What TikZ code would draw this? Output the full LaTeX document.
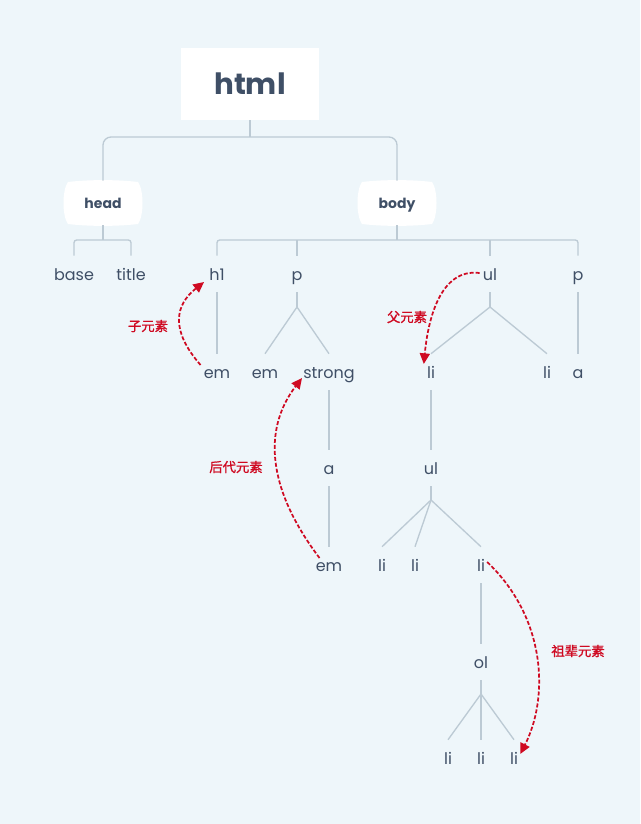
\documentclass[tikz,border=0pt]{standalone}
\usepackage{fontspec}
\setmainfont{Poppins}
\newfontfamily\cjk[FakeBold=1.3]{Noto Sans CJK SC}
\usetikzlibrary{arrows.meta}
\definecolor{bg}{HTML}{EEF6FA}
\definecolor{ln}{HTML}{BCCAD4}
\definecolor{tx}{HTML}{3F4F66}
\definecolor{rd}{HTML}{CF0A22}
\begin{document}
\begin{tikzpicture}[x=0.75pt,y=-0.75pt,
  lbl/.style={inner sep=0pt,text height=9pt,text depth=0pt,minimum height=27pt,text=tx,font=\fontsize{12}{14}\selectfont},
  conn/.style={draw=ln,line width=1pt},
  rel/.style={draw=rd,line width=1.3pt,dash pattern=on 3pt off 1.5pt,-{Triangle[length=8pt,width=7.5pt]}},
  rtext/.style={text=rd,font=\cjk\fontsize{10}{12}\selectfont,inner sep=0pt},
  tag/.style={inner sep=0pt,text height=7.5pt,text depth=0pt,minimum width=60pt,minimum height=33pt,text=tx,font=\bfseries\fontsize{10.5}{12}\selectfont},
  barrel/.style={fill=white}]
\fill[bg] (0,0) rectangle (640,824);
\useasboundingbox (0,0) rectangle (640,824);
% html
\node[fill=white,inner sep=0pt,minimum width=103.5pt,minimum height=54pt,text=tx,font=\bfseries\fontsize{22}{24}\selectfont] (html) at (250,84) {html};
% barrel shapes
\foreach \cx in {103,397}{
  \fill[barrel] (\cx-35,182) .. controls (\cx-14,179.5) and (\cx+14,179.5) .. (\cx+35,182)
    .. controls (\cx+41,190) and (\cx+41,216) .. (\cx+35,224)
    .. controls (\cx+14,226.5) and (\cx-14,226.5) .. (\cx-35,224)
    .. controls (\cx-41,216) and (\cx-41,190) .. (\cx-35,182) -- cycle;
}
\node[tag] (head) at (103,203) {head};
\node[tag] (body) at (397,203) {body};
% level nodes
\node[lbl] (base) at (74,274) {base};
\node[lbl] (title) at (131,274) {title};
\node[lbl] (h1) at (217,274) {h1};
\node[lbl] (pa) at (297,274) {p};
\node[lbl] (ula) at (490,274) {ul};
\node[lbl] (pb) at (578,274) {p};
\node[lbl] (em1) at (217,372) {em};
\node[lbl] (em2) at (265,372) {em};
\node[lbl] (strong) at (329,372) {strong};
\node[lbl] (lia) at (431,372) {li};
\node[lbl] (lib) at (547,372) {li};
\node[lbl] (aa) at (578,372) {a};
\node[lbl] (ab) at (329,468) {a};
\node[lbl] (ulb) at (431,468) {ul};
\node[lbl] (em3) at (329,565) {em};
\node[lbl] (lic) at (382,565) {li};
\node[lbl] (lid) at (415,565) {li};
\node[lbl] (lie) at (481,565) {li};
\node[lbl] (ol) at (481,662) {ol};
\node[lbl] (lif) at (448,758) {li};
\node[lbl] (lig) at (481,758) {li};
\node[lbl] (lih) at (514,758) {li};
% junctions
\coordinate (j0) at (250,137);
\coordinate (hj) at (103,240);
\coordinate (bj) at (397,240);
\coordinate (pf) at (297,307);
\coordinate (uf) at (490,307);
\coordinate (ubf) at (431,500);
\coordinate (of) at (481,694);
% connectors
\draw[conn] (html.south) -- (j0);
\draw[conn,rounded corners=6] (head.north) |- (j0) -| (body.north);
\draw[conn] (head.south) -- (hj);
\draw[conn,rounded corners=2] (base.north) |- (hj) -| (title.north);
\draw[conn] (body.south) -- (bj);
\draw[conn,rounded corners=2] (h1.north) |- (bj) -| (pb.north);
\draw[conn] (pa.north) -- (pa.north |- bj);
\draw[conn] (ula.north) -- (ula.north |- bj);
\draw[conn] (h1.south) -- (em1.north);
\draw[conn] (pa.south) -- (pf);
\draw[conn] (pf) -- (em2.north);
\draw[conn] (pf) -- (strong.north);
\draw[conn] (strong.south) -- (ab.north);
\draw[conn] (ab.south) -- (em3.north);
\draw[conn] (ula.south) -- (uf);
\draw[conn] (uf) -- (lia.north);
\draw[conn] (uf) -- (lib.north);
\draw[conn] (pb.south) -- (aa.north);
\draw[conn] (lia.south) -- (ulb.north);
\draw[conn] (ulb.south) -- (ubf);
\draw[conn] (ubf) -- (lic.north);
\draw[conn] (ubf) -- (lid.north);
\draw[conn] (ubf) -- (lie.north);
\draw[conn] (lie.south) -- (ol.north);
\draw[conn] (ol.south) -- (of);
\draw[conn] (of) -- (lif.north);
\draw[conn] (of) -- (lig.north);
\draw[conn] (of) -- (lih.north);
% relation arrows
\coordinate (s1) at ([shift={(-3,-7)}]em1.west);
\coordinate (t1) at ([shift={(-5,8)}]h1.west);
\draw[rel] (s1) .. controls (170,330) and (175,305) .. (t1);
\node[rtext] (r1) at (148,326) {子元素};
\coordinate (s2) at ([shift={(4,-7)}]em3.west);
\coordinate (t2) at ([shift={(-1,6)}]strong.west);
\draw[rel] (s2) .. controls (268,490) and (262,430) .. (t2);
\node[rtext] (r2) at (236,467) {后代元素};
\coordinate (s3) at ([shift={(-3,-1)}]ula.west);
\coordinate (t3) at ([shift={(-3,-8)}]lia.west);
\draw[rel] (s3) .. controls (440,268) and (428,320) .. (t3);
\node[rtext] (r3) at (407,317) {父元素};
\coordinate (s4) at ([shift={(2,-3)}]lie.east);
\coordinate (t4) at ([shift={(2,-4)}]lih.east);
\draw[rel] (s4) .. controls (548,620) and (548,700) .. (t4);
\node[rtext] (r4) at (578,651) {祖辈元素};
\end{tikzpicture}
\end{document}
